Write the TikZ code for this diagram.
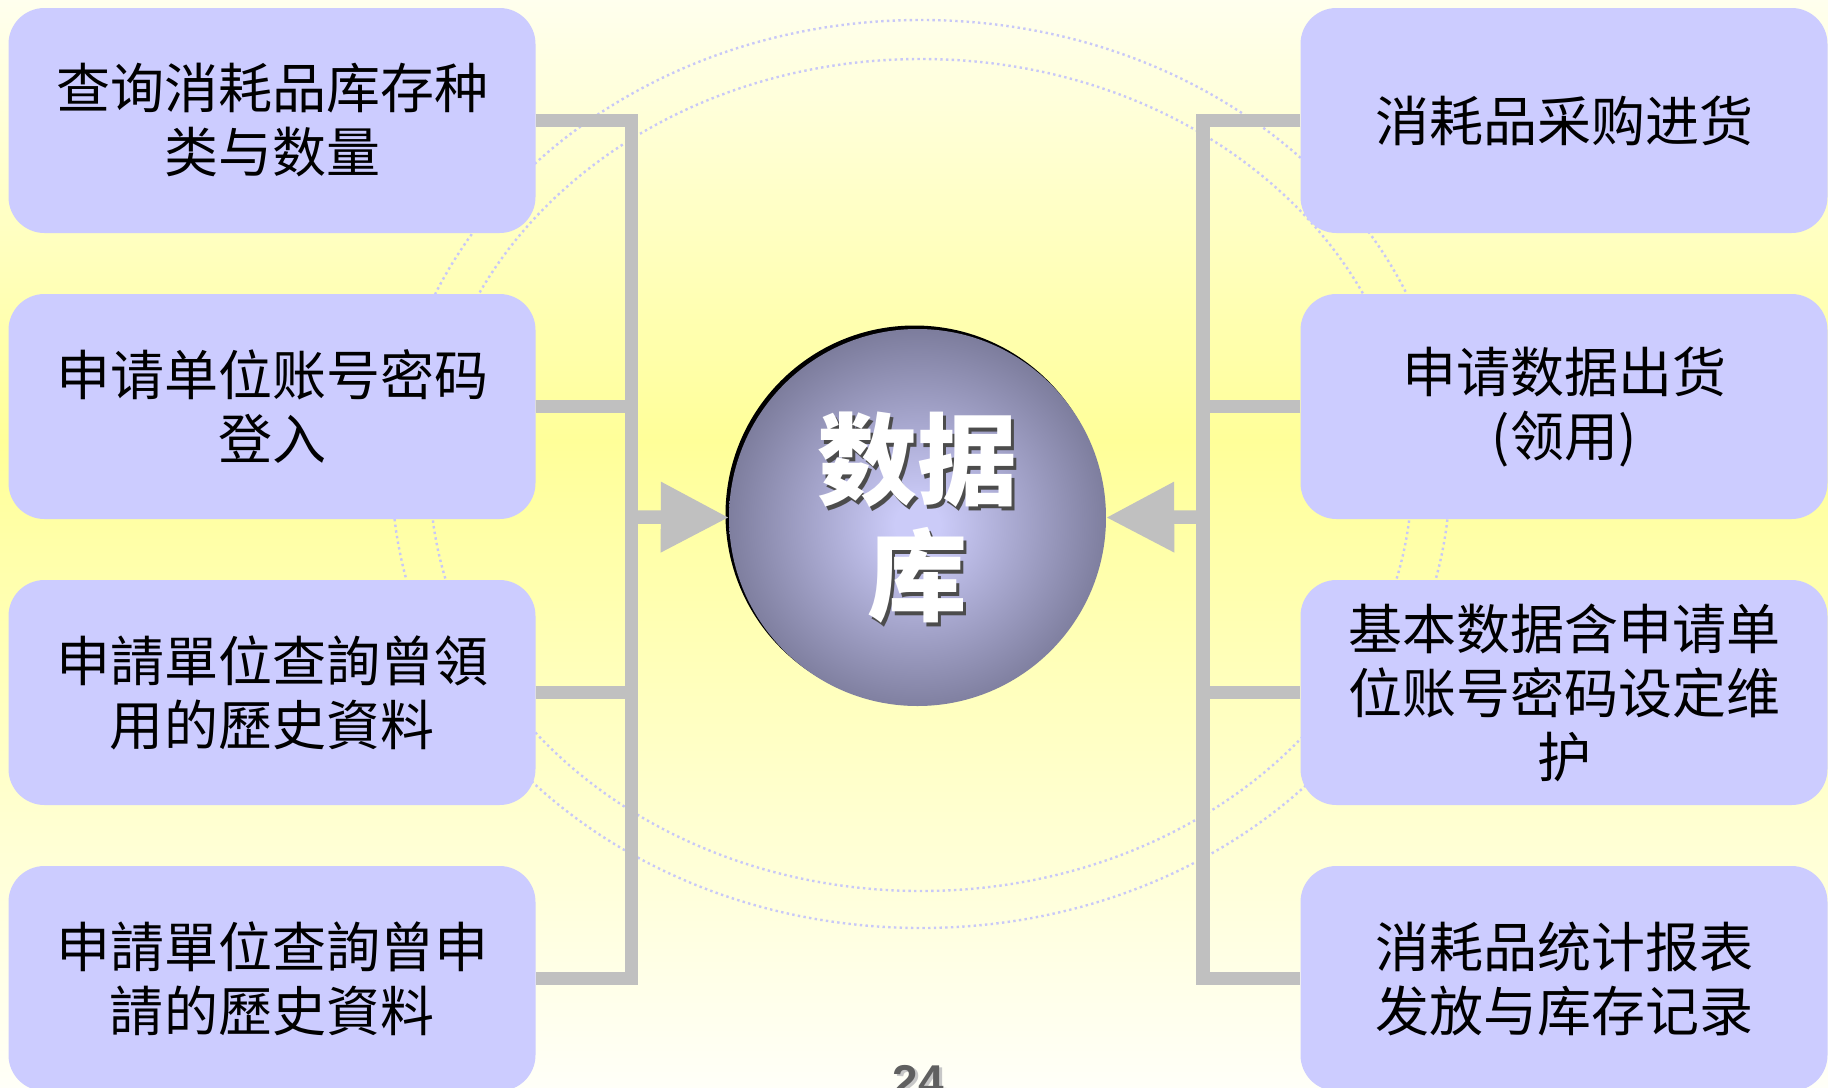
\documentclass[tikz,border=0pt]{standalone}
\usepackage{fontspec}
\newfontfamily\cjk{Noto Sans CJK SC}
\newfontfamily\numfont{Liberation Sans}
\usetikzlibrary{arrows.meta}
\definecolor{boxc}{HTML}{CCCCFF}
\definecolor{linec}{HTML}{C0C0C0}
\definecolor{dotc}{HTML}{C8C8F8}
\definecolor{bgtop}{HTML}{FFFFEE}
\definecolor{bgmid}{HTML}{FFFF99}
\definecolor{bgbot}{HTML}{FFFFF8}
\definecolor{ballin}{HTML}{CBCBF8}
\definecolor{ballout}{HTML}{5F5F7A}
\definecolor{pgnum}{HTML}{606060}
\pgfdeclareradialshading{dbball}{\pgfpoint{0bp}{-1bp}}{color(0bp)=(ballin); color(3bp)=(ballin); color(34bp)=(ballout); color(50bp)=(ballout)}
\tikzset{
  box/.style={fill=boxc, rounded corners=36pt, minimum width=527pt, minimum height=225pt,
    inner sep=0pt, align=center, font=\cjk\fontsize{54}{64}\selectfont, text=black},
  conn/.style={draw=linec, line width=13.5pt, line join=miter},
  dotring/.style={draw=dotc, line width=2.4pt, dash pattern=on 2.4pt off 3.3pt},
  dbtext/.style={font=\cjk\bfseries\fontsize{100}{116}\selectfont, align=center},
  pgtext/.style={font=\numfont\bfseries\fontsize{46}{50}\selectfont, anchor=base}
}
\begin{document}
\begin{tikzpicture}[x=1pt,y=-1pt]
\path[use as bounding box] (0,0) rectangle (1828,1087);
\clip (0,0) rectangle (1828,1087);
% background
\fill[top color=bgtop, bottom color=bgmid] (0,-1) rectangle (1828,441);
\fill[top color=bgmid, bottom color=bgbot] (0,440) rectangle (1828,1088);
% dotted rings
\draw[dotring] (921,474) ellipse [x radius=529, y radius=454];
\draw[dotring] (921,475) ellipse [x radius=491, y radius=416];
% central database ball
\fill[black] (914.5,514.5) circle [radius=189];
\node[circle, minimum size=377pt, inner sep=0pt, shading=dbball] (db) at (917.5,517.5) {};
\node[dbtext, text=black!70] (dbs) at (920.5,521.5) {数据\\库};
\node[dbtext, text=white] (dbt) at (917,518) {数据\\库};
% left boxes
\node[box] (L1) at (272,120.5) {查询消耗品库存种\\类与数量};
\node[box] (L2) at (272,406.5) {申请单位账号密码\\登入};
\node[box] (L3) at (272,692.5) {申請單位查詢曾領\\用的歷史資料};
\node[box] (L4) at (272,978.5) {申請單位查詢曾申\\請的歷史資料};
% right boxes
\node[box] (R1) at (1564,120.5) {消耗品采购进货};
\node[box] (R2) at (1564,406.5) {申请数据出货\\(领用)};
\node[box] (R3) at (1564,692.5) {基本数据含申请单\\位账号密码设定维\\护};
\node[box] (R4) at (1564,978.5) {消耗品统计报表\\发放与库存记录};
% connectors
\coordinate (lv) at (631.5,517);
\coordinate (rv) at (1203,517);
\draw[conn] (L1.east) -- (L1.east -| lv) -- (L4.east -| lv) -- (L4.east);
\draw[conn] (L2.east) -- (L2.east -| lv);
\draw[conn] (L3.east) -- (L3.east -| lv);
\draw[conn, -{Triangle[length=68pt, width=67pt]}] (lv) -- (db.west);
\draw[conn] (R1.west) -- (R1.west -| rv) -- (R4.west -| rv) -- (R4.west);
\draw[conn] (R2.west) -- (R2.west -| rv);
\draw[conn] (R3.west) -- (R3.west -| rv);
\draw[conn, -{Triangle[length=68pt, width=67pt]}] (rv) -- (db.east);
% page number
\node[pgtext, text=black!22] (pgs) at (921,1099) {24};
\node[pgtext, text=pgnum] (pg) at (918,1097) {24};
\end{tikzpicture}
\end{document}
